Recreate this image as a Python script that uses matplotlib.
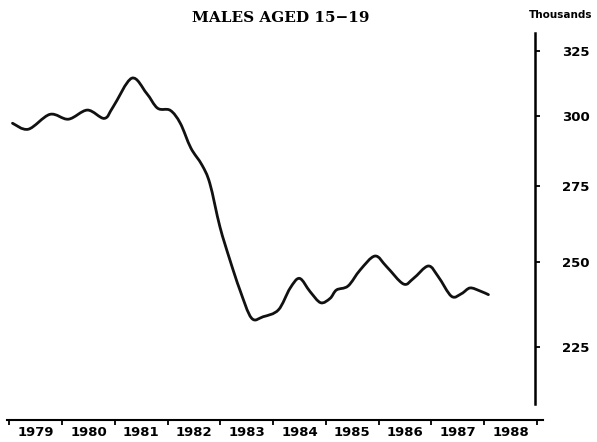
import matplotlib
matplotlib.use("Agg")
import matplotlib.pyplot as plt
import numpy as np
from matplotlib.path import Path
from matplotlib.patches import PathPatch
from matplotlib.ticker import FixedLocator, NullLocator, NullFormatter, FixedFormatter

# values (thousands), log scale on the right
years = [1979.06, 1979.36, 1979.77, 1980.12, 1980.48, 1980.80, 1980.97, 1981.32,
         1981.60, 1981.81, 1982.05, 1982.24, 1982.44, 1982.65, 1982.80, 1982.99,
         1983.18, 1983.37, 1983.59, 1983.81, 1984.10, 1984.32, 1984.50, 1984.70,
         1984.90, 1985.08, 1985.20, 1985.42, 1985.65, 1985.93, 1986.15, 1986.47,
         1986.66, 1986.94, 1987.13, 1987.38, 1987.57, 1987.73, 1987.92, 1988.08]
males = [297.2, 295.0, 300.5, 298.7, 302.1, 299.0, 303.4, 314.3,
         308.5, 302.8, 302.0, 297.2, 288.2, 282.2, 275.8, 261.4,
         250.8, 241.6, 233.3, 233.7, 235.7, 242.1, 245.1, 241.1,
         237.8, 239.1, 241.6, 242.8, 247.7, 252.0, 248.7, 243.4,
         245.1, 248.9, 245.6, 239.7, 240.5, 242.2, 241.3, 240.2]

year_ticks = list(range(1979, 1990))
year_labels = [str(y) for y in range(1979, 1989)]
y_ticks = [225, 250, 275, 300, 325]

fig = plt.figure(figsize=(5.97, 4.42), dpi=100)
ax = fig.add_axes([7 / 597, 22 / 442, 536 / 597, 387.3 / 442])

ax.set_yscale("log")
ax.set_xlim(1978.956, 1989.114)
ax.set_ylim(205.56, 332.58)

# smooth pen line through the read points (catmull-rom -> bezier)
p = np.column_stack([years, np.log(males)])
p = np.vstack([p[0], p, p[-1]])
verts = [(years[0], males[0])]
codes = [Path.MOVETO]
for i in range(1, len(p) - 2):
    c1 = p[i] + (p[i + 1] - p[i - 1]) / 6
    c2 = p[i + 1] - (p[i + 2] - p[i]) / 6
    for q in (c1, c2, p[i + 1]):
        verts.append((q[0], np.exp(q[1])))
        codes.append(Path.CURVE4)
ax.add_patch(PathPatch(Path(verts, codes), facecolor="none", edgecolor="#111111",
                       linewidth=2.0, capstyle="round", joinstyle="round"))

for s in ["left", "top"]:
    ax.spines[s].set_visible(False)
ax.spines["bottom"].set_linewidth(1.5)
ax.spines["right"].set_linewidth(1.8)
ax.spines["right"].set_position(("data", 1988.96))
ax.spines["right"].set_bounds(209.7, 332.58)

# x axis: ticks at year boundaries, labels in between
ax.xaxis.set_major_locator(FixedLocator(year_ticks))
ax.xaxis.set_major_formatter(NullFormatter())
ax.xaxis.set_minor_locator(FixedLocator([y + 0.5 for y in range(1979, 1989)]))
ax.xaxis.set_minor_formatter(FixedFormatter(year_labels))
ax.tick_params(axis="x", which="major", direction="out", length=3.5, width=1.3)
ax.tick_params(axis="x", which="minor", length=0, pad=4.5)
for lab in ax.get_xticklabels(minor=True):
    lab.set_fontweight("bold")
    lab.set_fontsize(9.5)

# y axis on the right
ax.yaxis.tick_right()
ax.yaxis.set_major_locator(FixedLocator(y_ticks))
ax.yaxis.set_major_formatter(FixedFormatter([str(v) for v in y_ticks]))
ax.yaxis.set_minor_locator(NullLocator())
ax.tick_params(axis="y", which="major", direction="out", length=3.5, width=1.3, pad=16)
for lab in ax.get_yticklabels():
    lab.set_fontweight("bold")
    lab.set_fontsize(9.5)

fig.text(281 / 597, 1 - 18 / 442, "MALES AGED 15\u221219", ha="center", va="center",
         family="DejaVu Serif", fontweight="bold", fontsize=11)
fig.text(561 / 597, 1 - 15 / 442, "Thousands", ha="center", va="center",
         fontweight="bold", fontsize=7.5)

fig.savefig("out.png", dpi=100)
